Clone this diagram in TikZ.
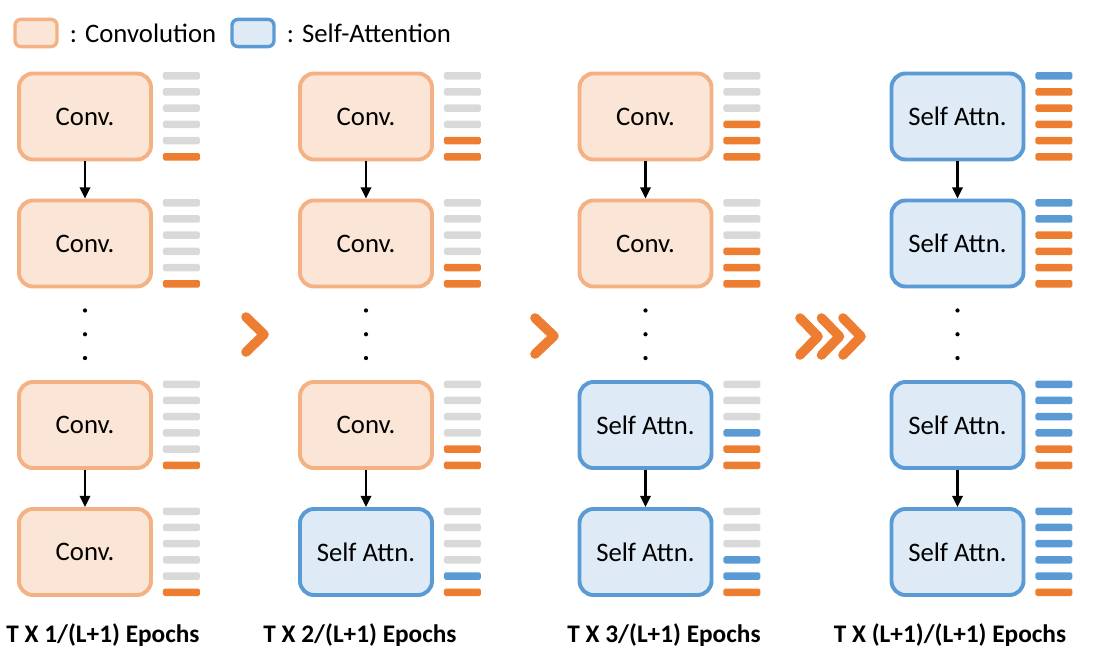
\documentclass[tikz,border=0pt]{standalone}
\usepackage{fontspec}
\setmainfont{Carlito}
\usetikzlibrary{calc}
\usetikzlibrary{arrows.meta}

\definecolor{convfill}{HTML}{FBE5D6}
\definecolor{convline}{HTML}{F4B183}
\definecolor{attnfill}{HTML}{DEEBF7}
\definecolor{attnline}{HTML}{5B9BD5}
\definecolor{gry}{HTML}{D9D9D9}
\definecolor{org}{HTML}{ED7D31}
\definecolor{blu}{HTML}{5B9BD5}

\tikzset{
    block/.style={rectangle, rounded corners=0.35cm, line width=2.8pt,
        minimum width=3.3cm, minimum height=2.15cm, font=\fontsize{19}{22}\selectfont},
    conv/.style={block, draw=convline, fill=convfill},
    attn/.style={block, draw=attnline, fill=attnfill},
    flow/.style={-{Triangle[length=8pt,width=7.5pt]}, line width=1.6pt},
    chev/.style={draw=org, line width=6.8pt, line cap=round, line join=round},
    eplabel/.style={font=\bfseries\fontsize{18}{21}\selectfont},
}

\newcommand{\barstack}[2]{%
    \foreach \c [count=\i from 0] in {#2}
        \fill[\c, rounded corners=1.2pt] ($(#1.east)+(10,-44.5+16.2*\i)$) rectangle ++(37,7.5);
}

\begin{document}
\begin{tikzpicture}[x=0.025cm, y=-0.025cm]
    \useasboundingbox (0,0) rectangle (1107,666);
    \node[conv, minimum width=1.05cm, minimum height=0.68cm, rounded corners=0.15cm, line width=2.4pt] (legconv) at (36,33) {};
    \node[anchor=west, inner sep=0pt, font=\fontsize{19}{22}\selectfont] (legconvtxt) at ($(legconv.east)+(11,0)$) {: Convolution};
    \node[attn, minimum width=1.05cm, minimum height=0.68cm, rounded corners=0.15cm, line width=2.4pt] (legattn) at (253,33) {};
    \node[anchor=west, inner sep=0pt, font=\fontsize{19}{22}\selectfont] (legattntxt) at ($(legattn.east)+(11,0)$) {: Self-Attention};
    \node[conv] (c1r1) at (85,116.5) {Conv.};
    \node[conv] (c1r2) at (85,243.5) {Conv.};
    \node[conv] (c1r3) at (85,425) {Conv.};
    \node[conv] (c1r4) at (85,552) {Conv.};
    \node[conv] (c2r1) at (366,116.5) {Conv.};
    \node[conv] (c2r2) at (366,243.5) {Conv.};
    \node[conv] (c2r3) at (366,425) {Conv.};
    \node[attn] (c2r4) at (366,552) {Self Attn.};
    \node[conv] (c3r1) at (645.5,116.5) {Conv.};
    \node[conv] (c3r2) at (645.5,243.5) {Conv.};
    \node[attn] (c3r3) at (645.5,425) {Self Attn.};
    \node[attn] (c3r4) at (645.5,552) {Self Attn.};
    \node[attn] (c4r1) at (957.5,116.5) {Self Attn.};
    \node[attn] (c4r2) at (957.5,243.5) {Self Attn.};
    \node[attn] (c4r3) at (957.5,425) {Self Attn.};
    \node[attn] (c4r4) at (957.5,552) {Self Attn.};
    \foreach \k in {1,...,4} {
        \draw[flow] (c\k r1) -- (c\k r2);
        \draw[flow] (c\k r3) -- (c\k r4);
        \foreach \f in {0.24,0.5,0.76}
            \fill ($(c\k r2.south)!\f!(c\k r3.north)$) circle (1.5pt);
    }
    \barstack{c1r1}{gry,gry,gry,gry,gry,org}
    \barstack{c1r2}{gry,gry,gry,gry,gry,org}
    \barstack{c1r3}{gry,gry,gry,gry,gry,org}
    \barstack{c1r4}{gry,gry,gry,gry,gry,org}
    \barstack{c2r1}{gry,gry,gry,gry,org,org}
    \barstack{c2r2}{gry,gry,gry,gry,org,org}
    \barstack{c2r3}{gry,gry,gry,gry,org,org}
    \barstack{c2r4}{gry,gry,gry,gry,blu,org}
    \barstack{c3r1}{gry,gry,gry,org,org,org}
    \barstack{c3r2}{gry,gry,gry,org,org,org}
    \barstack{c3r3}{gry,gry,gry,blu,org,org}
    \barstack{c3r4}{gry,gry,gry,blu,blu,org}
    \barstack{c4r1}{blu,org,org,org,org,org}
    \barstack{c4r2}{blu,blu,org,org,org,org}
    \barstack{c4r3}{blu,blu,blu,blu,org,org}
    \barstack{c4r4}{blu,blu,blu,blu,blu,org}
    \draw[chev] (246,317) -- (264,334.5) -- (246,352);
    \draw[chev] (535,318) -- (554,336) -- (535,354);
    \foreach \dx in {0,21.5,43}
        \draw[chev] (800+\dx,318) -- (818+\dx,336.5) -- (800+\dx,355);
    \node[eplabel] (ep1) at (103,635) {T X 1/(L+1) Epochs};
    \node[eplabel] (ep2) at (360,635) {T X 2/(L+1) Epochs};
    \node[eplabel] (ep3) at (664,635) {T X 3/(L+1) Epochs};
    \node[eplabel] (ep4) at (950,635) {T X (L+1)/(L+1) Epochs};
\end{tikzpicture}
\end{document}
